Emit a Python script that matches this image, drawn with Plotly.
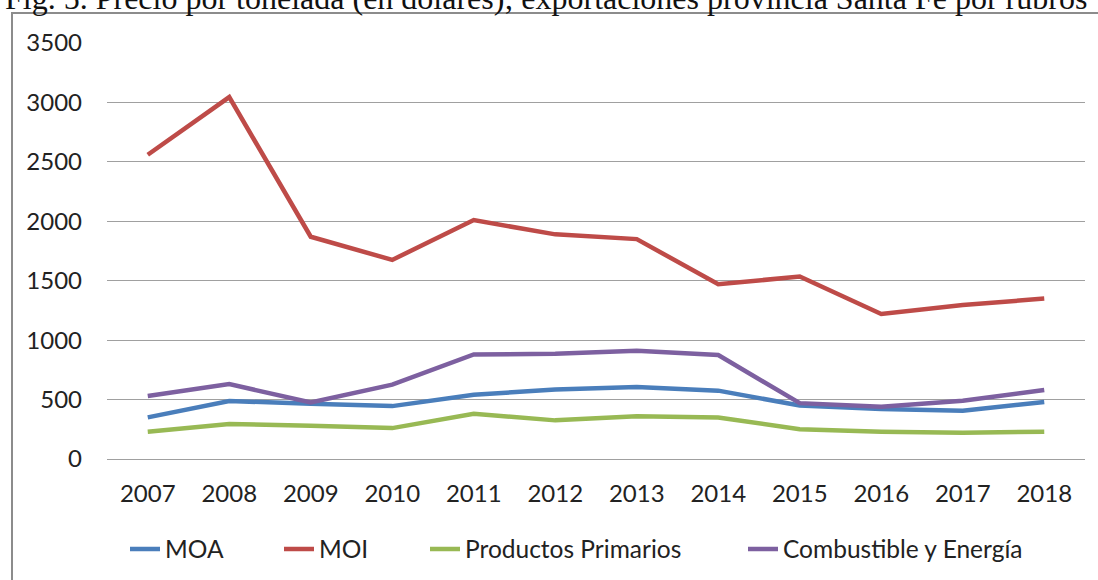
import plotly.graph_objects as go

years = ["2007", "2008", "2009", "2010", "2011", "2012", "2013", "2014", "2015", "2016", "2017", "2018"]
moa = [350, 488, 465, 445, 540, 585, 605, 575, 450, 420, 405, 480]
moi = [2560, 3045, 1870, 1675, 2010, 1890, 1850, 1470, 1535, 1220, 1295, 1350]
primarios = [230, 295, 280, 260, 380, 325, 360, 350, 250, 230, 220, 230]
combustible = [530, 630, 475, 625, 880, 885, 910, 875, 470, 440, 490, 580]
y_ticks = [0, 500, 1000, 1500, 2000, 2500, 3000, 3500]

series = [
    ("MOA", moa, "#4a7ebb"),
    ("MOI", moi, "#be4b48"),
    ("Productos Primarios", primarios, "#98b954"),
    ("Combustible y Energía", combustible, "#7d60a0"),
]

W, H = 1098, 580
L, R, T, B = 107, 13, 43, 121
pw, ph = W - L - R, H - T - B

def px(x):
    return (x - L) / pw

def py(y):
    return (H - B - y) / ph

legend_names = ["legend", "legend2", "legend3", "legend4"]
legend_x = [125, 279, 425, 743]

fig = go.Figure()
for (name, vals, col), lg in zip(series, legend_names):
    fig.add_trace(go.Scatter(x=years, y=vals, name=name, mode="lines", legend=lg,
                             line=dict(color=col, width=4.5)))

legend_common = dict(orientation="h", xanchor="left", yanchor="middle", y=py(549),
                     font=dict(family="Lato", size=24.5, color="#222222"),
                     itemwidth=30, bgcolor="rgba(0,0,0,0)", borderwidth=0)

layout_legends = {}
for lg, lx in zip(legend_names, legend_x):
    layout_legends[lg] = dict(legend_common, x=px(lx))

fig.update_layout(
    width=W, height=H,
    margin=dict(l=L, r=R, t=T, b=B, autoexpand=False),
    paper_bgcolor="white", plot_bgcolor="white",
    font=dict(family="Lato", size=24, color="#222222"),
    showlegend=True,
    xaxis=dict(type="category", range=[-0.5, 11.5], showgrid=False,
               showline=True, linecolor="#a0a0a0", linewidth=1.2,
               ticks="", ticklabelstandoff=13, fixedrange=True, automargin=False),
    yaxis=dict(range=[0, 3500], tickvals=y_ticks, showgrid=True, gridcolor="#a0a0a0",
               gridwidth=1.2, zeroline=False, showline=False, ticks="",
               ticklabelstandoff=24, fixedrange=True, automargin=False),
    **layout_legends,
)

# outer chart frame
fig.add_shape(type="rect", xref="paper", yref="paper",
              x0=px(12), x1=px(1110), y0=py(13), y1=py(600),
              line=dict(color="#8c8c8c", width=2), fillcolor="rgba(0,0,0,0)", layer="below")

# caption (partially cut at top in reference)
fig.add_annotation(xref="paper", yref="paper", x=px(3), y=py(18), xanchor="left", yanchor="bottom",
                   text="Fig. 5. Precio por tonelada (en dólares); exportaciones provincia Santa Fe por rubros",
                   showarrow=False, font=dict(family="Liberation Serif", size=32, color="#111111"))

fig.write_html("out.html", post_script="document.body.style.margin='0';",
               config={"displayModeBar": False})
